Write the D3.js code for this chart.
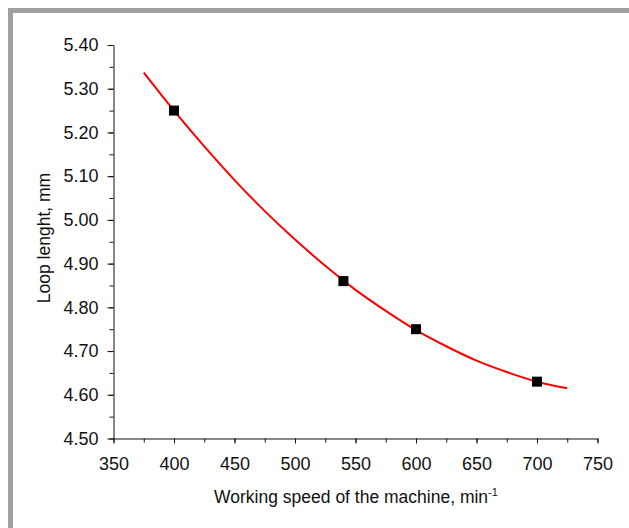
<!DOCTYPE html>
<html>
<head>
<meta charset="utf-8">
<script src="https://cdn.jsdelivr.net/npm/d3@7"></script>
<style>
  body { margin: 0; background: #fff; }
  text { font-family: "Liberation Sans", Arial, sans-serif; fill: #111; }
</style>
</head>
<body>
<svg id="grafica" width="629" height="528"></svg>
<script>
// measured points
var speeds = [400, 540, 600, 700];
var loops = [5.25, 4.86, 4.75, 4.63];

// trend line
var trendSpeeds = [375, 400, 425, 450, 475, 500, 525, 550, 575, 600, 625, 650, 675, 700, 725];
var trendLoops = [5.337, 5.250, 5.168, 5.091, 5.020, 4.955, 4.895, 4.840, 4.792, 4.748, 4.711, 4.678, 4.652, 4.630, 4.615];

var xTicks = [350, 400, 450, 500, 550, 600, 650, 700, 750];
var yTicks = [4.50, 4.60, 4.70, 4.80, 4.90, 5.00, 5.10, 5.20, 5.30, 5.40];

var svg = d3.select("#grafica")

// grey frame (cropped on right and bottom)
svg.append("rect").attr("x", 8).attr("y", 8).attr("width", 621).attr("height", 5).attr("fill", "#a0a0a0")
svg.append("rect").attr("x", 8).attr("y", 8).attr("width", 5).attr("height", 520).attr("fill", "#a0a0a0")

var x = d3.scaleLinear().domain([350, 750]).range([113.5, 597.5])
var y = d3.scaleLinear().domain([4.5, 5.4]).range([438.5, 45])

// minor ticks
var xMinor = d3.range(350, 751, 25)
var yMinor = d3.range(0, 19).map(i => 4.5 + i * 0.05)

svg.append("g")
	.attr("transform", "translate(0,438.5)")
	.call(d3.axisBottom(x).tickValues(xMinor).tickSize(4).tickFormat(""))
	.call(g => g.select(".domain").remove())

svg.append("g")
	.attr("transform", "translate(113.5,0)")
	.call(d3.axisLeft(y).tickValues(yMinor).tickSize(4).tickFormat(""))
	.call(g => g.select(".domain").remove())

var xAxis = svg.append("g")
	.attr("transform", "translate(0,438.5)")
	.call(d3.axisBottom(x).tickValues(xTicks).tickSize(5).tickSizeOuter(0).tickPadding(14))

var yAxis = svg.append("g")
	.attr("transform", "translate(113.5,0)")
	.call(d3.axisLeft(y).tickValues(yTicks).tickFormat(d3.format(".2f")).tickSize(6).tickSizeOuter(0).tickPadding(9))

svg.selectAll(".tick line").attr("stroke", "#111")
svg.selectAll(".domain").attr("stroke", "#111")
xAxis.selectAll("text").style("font-size", "18px").attr("fill", "#111")
yAxis.selectAll("text").style("font-size", "18px").attr("fill", "#111")

// trend line
var trend = trendSpeeds.map((s, i) => ({x: s, y: trendLoops[i]}))
var line = d3.line()
	.x(d => x(d.x))
	.y(d => y(d.y))
	.curve(d3.curveCatmullRom)

svg.append("path")
	.datum(trend)
	.attr("fill", "none")
	.attr("stroke", "#ff0000")
	.attr("stroke-width", 2)
	.attr("d", line)

// markers
var pts = speeds.map((s, i) => ({x: s, y: loops[i]}))
svg.selectAll(".pt")
	.data(pts)
	.enter().append("rect")
	.attr("class", "pt")
	.attr("x", d => x(d.x) - 5)
	.attr("y", d => y(d.y) - 5)
	.attr("width", 10)
	.attr("height", 10)
	.attr("fill", "#000")

// axis titles
var xt = svg.append("text")
	.attr("x", 356)
	.attr("y", 503)
	.attr("text-anchor", "middle")
	.style("font-size", "17.5px")
xt.append("tspan").text("Working speed of the machine, min")
xt.append("tspan").attr("dy", -7).style("font-size", "11px").text("-1")

svg.append("text")
	.attr("transform", "translate(50,238) rotate(-90)")
	.attr("text-anchor", "middle")
	.style("font-size", "17.5px")
	.text("Loop lenght, mm")
</script>
</body>
</html>
